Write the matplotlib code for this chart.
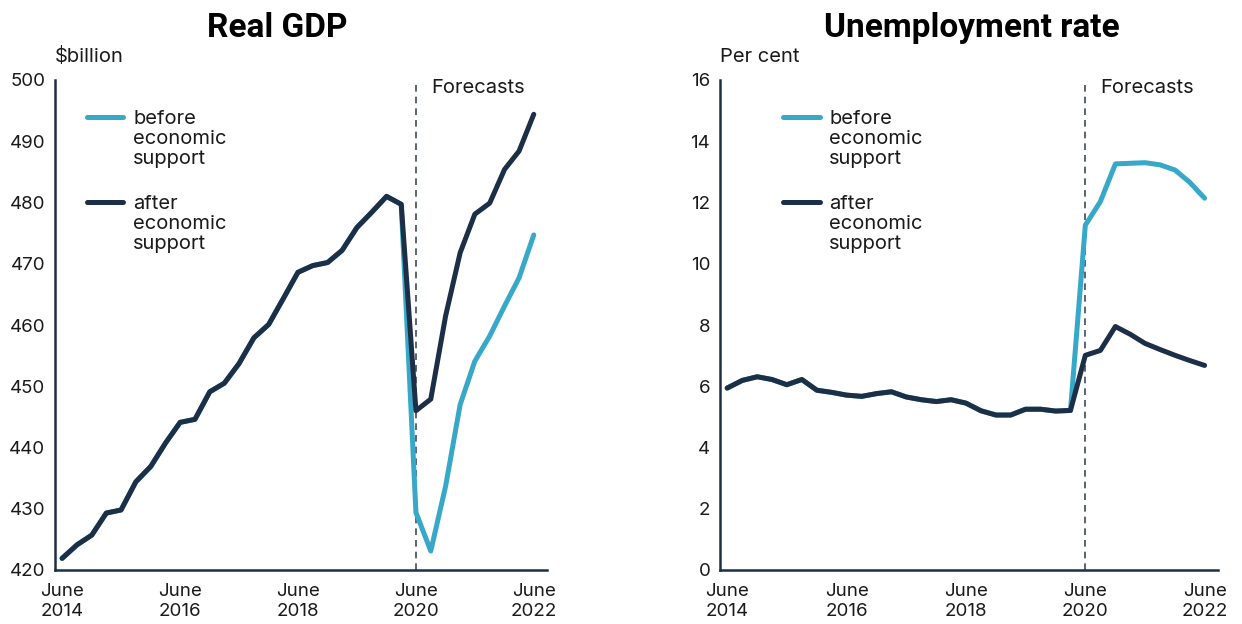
import numpy as np
import pandas as pd
import matplotlib
matplotlib.use("Agg")
import matplotlib.pyplot as plt

plt.rcParams['font.family'] = ['Inter', 'DejaVu Sans']

# quarterly, June 2014 to June 2022
quarters = pd.date_range("2014-06-30", "2022-06-30", freq="QE")
forecast_start = pd.Timestamp("2020-06-30")

# Real GDP, $billion (history to March 2020, then forecasts)
gdp_history = [421.9, 424.1, 425.7, 429.3, 429.8, 434.4, 436.9, 440.7,
               444.1, 444.6, 449.1, 450.5, 453.7, 457.9, 460.1, 464.3,
               468.6, 469.7, 470.2, 472.2, 475.9, 478.4, 481.0, 479.7]
gdp_after_fc = [446.0, 447.9, 461.5, 471.8, 478.1, 479.9, 485.4, 488.4, 494.4]
gdp_before_fc = [429.4, 423.1, 433.7, 447.0, 454.1, 458.2, 463.1, 467.7, 474.7]

# Unemployment rate, per cent
unemp_history = [5.94, 6.19, 6.31, 6.22, 6.05, 6.22, 5.87, 5.80,
                 5.71, 5.67, 5.76, 5.82, 5.65, 5.56, 5.50, 5.56,
                 5.45, 5.20, 5.06, 5.06, 5.25, 5.25, 5.19, 5.21]
unemp_after_fc = [7.01, 7.17, 7.95, 7.70, 7.40, 7.20, 7.01, 6.84, 6.68]
unemp_before_fc = [11.26, 12.03, 13.26, 13.28, 13.30, 13.23, 13.06, 12.66, 12.14]

tick_years = [2014, 2016, 2018, 2020, 2022]
labels = ["before\neconomic\nsupport", "after\neconomic\nsupport"]

navy = "#1d2e47"
cyan = "#37a8c8"
txt = "#1a1a1a"

fig = plt.figure(figsize=(12.42, 6.24), dpi=100)
ax1 = fig.add_axes([55 / 1242, 54 / 624, 492 / 1242, 490 / 624])
ax2 = fig.add_axes([720 / 1242, 54 / 624, 498 / 1242, 490 / 624])

panels = [
    (ax1, gdp_history, gdp_before_fc, gdp_after_fc, (420, 500), np.arange(420, 501, 10),
     "Real GDP", "$billion", 277, (0.065, 0.138, 0.159)),
    (ax2, unemp_history, unemp_before_fc, unemp_after_fc, (0, 16), np.arange(0, 17, 2),
     "Unemployment rate", "Per cent", 972, (0.127, 0.201, 0.219)),
]

for ax, hist, before, after, ylim, yticks, title, unit, tx, legx in panels:
    before_full = np.array(hist + before)
    after_full = np.array(hist + after)
    ax.plot(quarters, before_full, color=cyan, lw=3.6, solid_capstyle="round",
            solid_joinstyle="round", zorder=3)
    ax.plot(quarters, after_full, color=navy, lw=3.6, solid_capstyle="round",
            solid_joinstyle="round", zorder=4)

    ax.axvline(forecast_start, color="#3f4a5c", lw=1.2, ls=(0, (4, 3)), zorder=2)
    ax.annotate("Forecasts", xy=(forecast_start, 1), xycoords=("data", "axes fraction"),
                xytext=(11, -5.5), textcoords="offset points", ha="left", va="center",
                fontsize=14.5, color=txt)

    ax.set_ylim(*ylim)
    ax.set_yticks(yticks)
    ax.set_xlim(pd.Timestamp("2014-05-17"), pd.Timestamp("2022-09-20"))
    ax.set_xticks([pd.Timestamp(f"{y}-06-30") for y in tick_years])
    ax.set_xticklabels([f"June\n{y}" for y in tick_years], linespacing=1.3)
    ax.tick_params(axis="both", length=0, labelsize=13.5, colors=txt)
    ax.tick_params(axis="y", pad=7)
    ax.tick_params(axis="x", pad=9)

    for s in ["top", "right"]:
        ax.spines[s].set_visible(False)
    for s in ["left", "bottom"]:
        ax.spines[s].set_color(navy)
        ax.spines[s].set_linewidth(1.8)

    ax.text(0, 1 + 23 / 490, unit, transform=ax.transAxes, ha="left", va="center",
            fontsize=14.5, color=txt)
    fig.text(tx / 1242, 1 - 28 / 624, title, ha="center", va="center",
             fontsize=24, fontweight="bold", family="Roboto", color="black")

    # legend keys and labels
    x0, x1, xt = legx
    for col, lab, yl, yt in [(cyan, labels[0], 0.924, 0.939), (navy, labels[1], 0.751, 0.766)]:
        ax.plot([x0, x1], [yl, yl], transform=ax.transAxes, color=col, lw=3.6,
                solid_capstyle="round", clip_on=False)
        ax.text(xt, yt, lab, transform=ax.transAxes, ha="left", va="top",
                fontsize=14.5, color=txt, linespacing=1.15)

fig.savefig("out.png", dpi=100)
